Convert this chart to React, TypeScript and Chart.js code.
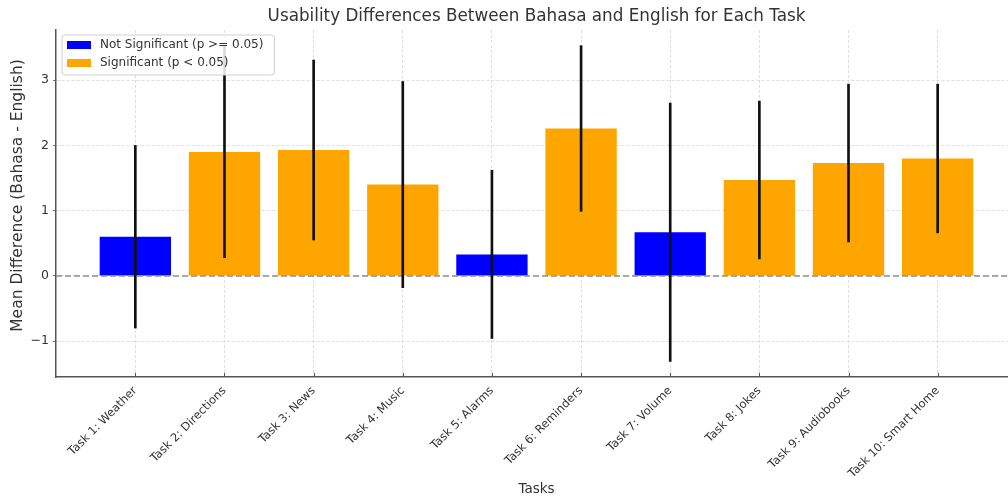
import React, { useEffect, useRef } from "react";
import { Chart, registerables } from "chart.js";

Chart.register(...registerables);

const tasks = [
  "Task 1: Weather",
  "Task 2: Directions",
  "Task 3: News",
  "Task 4: Music",
  "Task 5: Alarms",
  "Task 6: Reminders",
  "Task 7: Volume",
  "Task 8: Jokes",
  "Task 9: Audiobooks",
  "Task 10: Smart Home",
];
const meanDiff = [0.6, 1.9, 1.93, 1.4, 0.33, 2.26, 0.67, 1.47, 1.73, 1.8];
const ciHalf = [1.4, 1.62, 1.38, 1.58, 1.29, 1.27, 1.98, 1.21, 1.21, 1.14];
const significant = [false, true, true, true, false, true, false, true, true, true];
const yTicks = [-1, 0, 1, 2, 3];
const legendLabels = ["Not Significant (p >= 0.05)", "Significant (p < 0.05)"];
const legendColors = ["#0000ff", "#ffa500"];
const titleText = "Usability Differences Between Bahasa and English for Each Task";
const yTitleText = "Mean Difference (Bahasa - English)";

const FONT = "'DejaVu Sans', sans-serif";
const TEXT = "#333333";

const xMin = -0.89;
const xMax = 9.89;

const titlePlugin = {
  id: "customTitle",
  afterDraw(chart: any) {
    const { ctx, chartArea } = chart;
    ctx.save();
    ctx.font = `16.8px ${FONT}`;
    ctx.fillStyle = TEXT;
    ctx.textAlign = "center";
    ctx.textBaseline = "middle";
    ctx.fillText(titleText, (chartArea.left + chartArea.right) / 2, 17);
    // y-axis title
    ctx.translate(18, chartArea.top + (chartArea.bottom - chartArea.top) / 2 - 8);
    ctx.rotate(-Math.PI / 2);
    ctx.font = `15.5px ${FONT}`;
    ctx.fillText(yTitleText, 0, 0);
    ctx.restore();
  },
};

const legendPlugin = {
  id: "customLegend",
  afterDatasetsDraw(chart: any) {
    const { ctx, chartArea } = chart;
    const x0 = chartArea.left + 6;
    const y0 = chartArea.top + 5;
    ctx.save();
    ctx.font = `12px ${FONT}`;
    const w = Math.max(...legendLabels.map((l) => ctx.measureText(l).width)) + 44 + 5;
    const h = 40;
    ctx.beginPath();
    ctx.roundRect(x0, y0, w, h, 3);
    ctx.fillStyle = "rgba(255,255,255,0.85)";
    ctx.fill();
    ctx.strokeStyle = "#d0d0d0";
    ctx.lineWidth = 1;
    ctx.stroke();
    legendLabels.forEach((label, i) => {
      const cy = y0 + 10 + i * 18;
      ctx.fillStyle = legendColors[i];
      ctx.fillRect(x0 + 5, cy - 4, 24, 8);
      ctx.fillStyle = TEXT;
      ctx.textAlign = "left";
      ctx.textBaseline = "middle";
      ctx.fillText(label, x0 + 38, cy);
    });
    ctx.restore();
  },
};

const tickPlugin = {
  id: "inwardTicks",
  afterDatasetsDraw(chart: any) {
    const { ctx, chartArea, scales } = chart;
    ctx.save();
    ctx.strokeStyle = "#555555";
    ctx.lineWidth = 1;
    scales.x.ticks.forEach((t: any) => {
      const px = Math.round(scales.x.getPixelForValue(t.value)) + 0.5;
      ctx.beginPath();
      ctx.moveTo(px, chartArea.bottom);
      ctx.lineTo(px, chartArea.bottom - 4);
      ctx.stroke();
    });
    ctx.restore();
  },
};

export default function App() {
  const canvasRef = useRef<HTMLCanvasElement | null>(null);

  useEffect(() => {
    if (!canvasRef.current) return;
    Chart.defaults.font.family = FONT;
    Chart.defaults.color = TEXT;

    const chart = new Chart(canvasRef.current, {
      type: "bar",
      data: {
        datasets: [
          {
            type: "bar",
            label: "CI",
            data: tasks.map((_, i) => ({ x: i, y: [meanDiff[i] - ciHalf[i], meanDiff[i] + ciHalf[i]] })),
            backgroundColor: "#111111",
            barThickness: 2,
            grouped: false,
            order: 0,
          } as any,
          {
            type: "line",
            label: "zero",
            data: [
              { x: xMin, y: 0 },
              { x: xMax, y: 0 },
            ],
            borderColor: "#8f8f8f",
            borderWidth: 1.5,
            borderDash: [6, 3],
            pointRadius: 0,
            order: 1,
          } as any,
          {
            type: "bar",
            label: "Mean",
            data: tasks.map((_, i) => ({ x: i, y: meanDiff[i] })),
            backgroundColor: significant.map((s) => (s ? legendColors[1] : legendColors[0])),
            barPercentage: 0.8,
            categoryPercentage: 1,
            grouped: false,
            order: 2,
          } as any,
        ],
      },
      options: {
        animation: false,
        responsive: true,
        maintainAspectRatio: false,
        layout: { padding: { top: 30, right: 9, left: 0, bottom: 0 } },
        plugins: {
          legend: { display: false },
          title: { display: false },
          tooltip: { enabled: false },
        },
        scales: {
          x: {
            type: "linear",
            min: xMin,
            max: xMax,
            offset: false,
            afterBuildTicks: (axis: any) => {
              axis.ticks = tasks.map((_, i) => ({ value: i }));
            },
            afterFit: (axis: any) => {
              axis.height = 122;
            },
            ticks: {
              autoSkip: false,
              minRotation: 45,
              maxRotation: 45,
              padding: 3,
              color: TEXT,
              font: { size: 11.5, family: FONT },
              callback: (v: any) => tasks[v as number] ?? "",
            },
            grid: {
              offset: false,
              color: "#d6d6d6",
              lineWidth: 0.8,
              tickLength: 4,
              tickColor: "rgba(0,0,0,0)",
            },
            border: { display: true, color: "#555555", width: 1.5, dash: [3, 2] },
            title: {
              display: true,
              text: "Tasks",
              color: TEXT,
              font: { size: 13.5, family: FONT },
              padding: { top: 0, bottom: 1 },
            },
          },
          y: {
            type: "linear",
            min: -1.55,
            max: 3.77,
            afterBuildTicks: (axis: any) => {
              axis.ticks = yTicks.map((v) => ({ value: v }));
            },
            afterFit: (axis: any) => {
              axis.width = 56;
            },
            ticks: {
              padding: 4,
              color: TEXT,
              font: { size: 12.5, family: FONT },
              callback: (v: any) => (v < 0 ? "\u2212" + Math.abs(v) : String(v)),
            },
            grid: {
              color: "#d6d6d6",
              lineWidth: 0.8,
              tickLength: 3,
              tickColor: "#555555",
            },
            border: { display: true, color: "#555555", width: 1.5, dash: [3, 2] },
            title: { display: false },
          },
        },
      } as any,
      plugins: [legendPlugin, tickPlugin, titlePlugin],
    });
    return () => chart.destroy();
  }, []);

  return (
    <div
      style={{
        position: "fixed",
        left: 0,
        top: 0,
        width: 1008,
        height: 499,
        overflow: "hidden",
        background: "#ffffff",
      }}
    >
      <div style={{ position: "relative", width: 1026, height: 499 }}>
        <canvas ref={canvasRef} />
      </div>
    </div>
  );
}
